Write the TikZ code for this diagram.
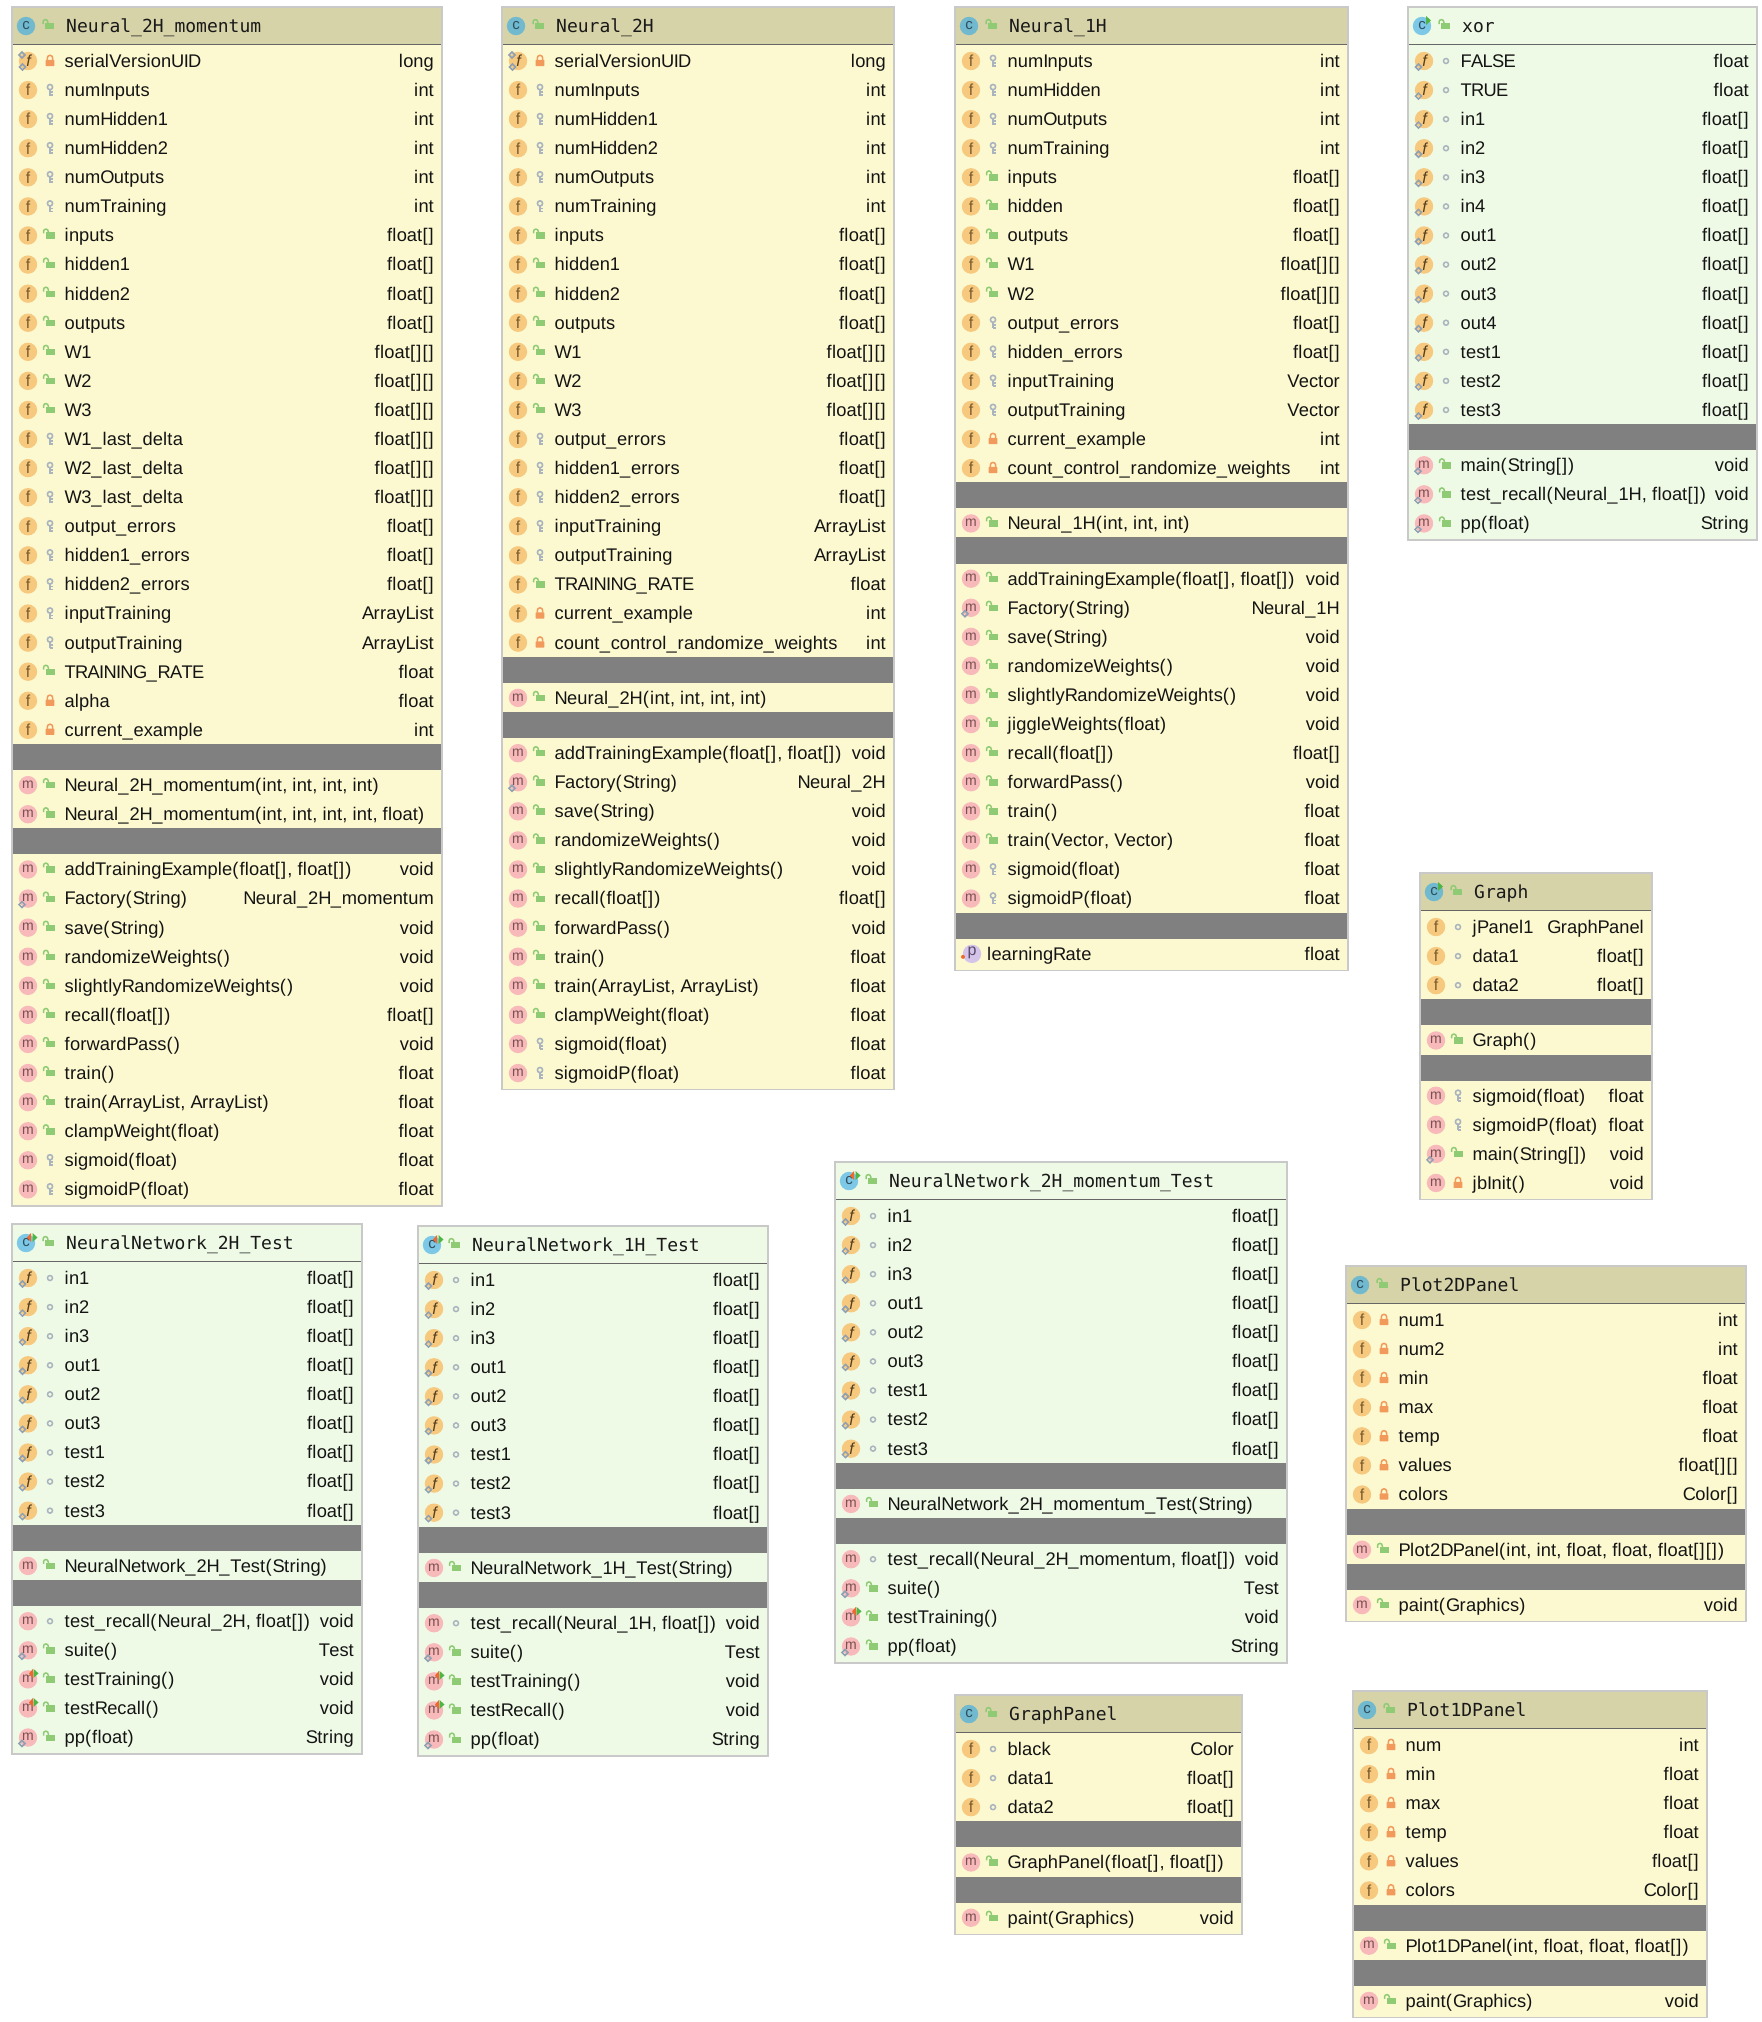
\documentclass[tikz,border=0pt]{standalone}
\usepackage{fontspec}
\setmainfont{Liberation Sans}
\newfontfamily\monof{DejaVu Sans Mono}
\definecolor{ybody}{HTML}{FCF9D0}
\definecolor{yhead}{HTML}{D6D3A9}
\definecolor{gbody}{HTML}{EFFAE6}
\definecolor{sepc}{HTML}{808080}
\definecolor{edgec}{HTML}{C9C9C9}
\definecolor{linec}{HTML}{666666}
\definecolor{ficon}{HTML}{F6C97F}
\definecolor{mincon}{HTML}{F8B9BB}
\definecolor{cicon}{HTML}{70B9CE}
\definecolor{picon}{HTML}{D4C4EA}
\definecolor{fink}{HTML}{7A5A2C}
\definecolor{mink}{HTML}{7A5050}
\definecolor{cink}{HTML}{2F4F5F}
\definecolor{pink2}{HTML}{5A4A6A}
\definecolor{pubc}{HTML}{8FCB75}
\definecolor{pric}{HTML}{F29A5C}
\definecolor{proc}{HTML}{A9B4BE}
\definecolor{pinc}{HTML}{8FA0B3}
\definecolor{runr}{HTML}{EE6A2C}
\definecolor{rung}{HTML}{4FB544}
\newcounter{nid}
\newcommand\Nd{\stepcounter{nid}\node}
\newcommand\nn{n\arabic{nid}}
\pgfdeclarelayer{bglayer}
\pgfsetlayers{bglayer,main}
% small tracking so that the Liberation Sans rows take the reference's widths
\newXeTeXintercharclass\clsnarrow
\newXeTeXintercharclass\clsbrk
\newXeTeXintercharclass\clscap
\XeTeXcharclass`f=\clsnarrow \XeTeXcharclass`l=\clsnarrow \XeTeXcharclass`t=\clsnarrow \XeTeXcharclass`i=\clsnarrow \XeTeXcharclass`j=\clsnarrow \XeTeXcharclass`r=\clsnarrow
\XeTeXcharclass`(=\clsbrk \XeTeXcharclass`)=\clsbrk \XeTeXcharclass`[=\clsbrk \XeTeXcharclass`]=\clsbrk \XeTeXcharclass`,=\clsbrk
\XeTeXcharclass`A=\clscap \XeTeXcharclass`B=\clscap \XeTeXcharclass`C=\clscap \XeTeXcharclass`D=\clscap \XeTeXcharclass`E=\clscap \XeTeXcharclass`F=\clscap \XeTeXcharclass`G=\clscap \XeTeXcharclass`H=\clscap \XeTeXcharclass`I=\clscap \XeTeXcharclass`L=\clscap \XeTeXcharclass`N=\clscap \XeTeXcharclass`O=\clscap \XeTeXcharclass`P=\clscap \XeTeXcharclass`R=\clscap \XeTeXcharclass`S=\clscap \XeTeXcharclass`T=\clscap \XeTeXcharclass`U=\clscap \XeTeXcharclass`V=\clscap \XeTeXcharclass`W=\clscap
\XeTeXinterchartoks\clsnarrow 0={\kern.3pt}
\XeTeXinterchartoks\clsnarrow\clsnarrow={\kern.3pt}
\XeTeXinterchartoks\clsnarrow\clsbrk={\kern.3pt}
\XeTeXinterchartoks\clsnarrow\clscap={\kern.3pt}
\XeTeXinterchartoks\clsbrk 0={\kern1.1pt}
\XeTeXinterchartoks\clsbrk\clsnarrow={\kern1.1pt}
\XeTeXinterchartoks\clsbrk\clsbrk={\kern1.1pt}
\XeTeXinterchartoks\clsbrk\clscap={\kern1.1pt}
\XeTeXinterchartoks\clscap 0={\kern-.7pt}
\XeTeXinterchartoks\clscap\clsnarrow={\kern-.7pt}
\XeTeXinterchartoks\clscap\clscap={\kern-.7pt}
\newcommand\rowfont{\XeTeXinterchartokenstate=1 \def\_{\textunderscore\kern.9pt}\fontsize{18.3}{20}\selectfont}
\tikzset{
  x=1pt,y=-1pt,
  rowtxt/.style={inner sep=0pt,font=\rowfont,text=black!92},
  titletxt/.style={inner sep=0pt,anchor=base west,font=\monof\fontsize{18}{20}\selectfont,text=black!90},
  iconf/.style={inner sep=0pt,font=\fontsize{16}{18}\selectfont,text=fink},
  iconfs/.style={inner sep=0pt,font=\itshape\fontsize{16}{18}\selectfont,text=fink!70!black},
  iconm/.style={inner sep=0pt,font=\fontsize{14}{16}\selectfont,text=mink},
  iconc/.style={inner sep=0pt,font=\fontsize{15}{16}\selectfont,text=cink},
  iconp/.style={inner sep=0pt,font=\fontsize{16}{16}\selectfont,text=pink2},
  pinmark/.style={draw=pinc,line width=1.5pt},
}
% ---- small marks
\newcommand\pinat[2]{\draw[pinmark] ({#1-3},{#2})--({#1},{#2-3})--({#1+3},{#2})--({#1},{#2+3})--cycle;}
\newcommand\runr[2]{\fill[runr] ({#1+4},{#2-4.5})--({#1},{#2})--({#1+4},{#2+4.5})--cycle;}
\newcommand\rung[2]{\fill[rung] ({#1},{#2-4.5})--({#1+5},{#2})--({#1},{#2+4.5})--cycle;}
% ---- member icons, centred on (\ix,\cury)
\newcommand\icnf{\fill[ficon] (\ix,\cury) circle[radius=9.2pt]; \Nd[iconf] (\nn) at (\ix,\cury) {f};}
\newcommand\icnfs{\fill[ficon] (\ix,\cury) circle[radius=9.2pt]; \Nd[iconfs] (\nn) at ({\ix+.5},\cury) {f}; \pinat{\ix-5.5}{\cury+6}}
\newcommand\icnfz{\fill[ficon] (\ix,\cury) circle[radius=9.2pt]; \Nd[iconfs] (\nn) at ({\ix+.5},\cury) {f}; \pinat{\ix-5.5}{\cury+6}\pinat{\ix-6}{\cury-6}}
\newcommand\icnm{\fill[mincon] (\ix,\cury) circle[radius=9.2pt]; \Nd[iconm] (\nn) at (\ix,{\cury-.5}) {m};}
\newcommand\icnms{\icnm\pinat{\ix-6}{\cury+6}}
\newcommand\icnmt{\icnm\runr{\ix+1}{\cury-6}\rung{\ix+5.5}{\cury-6}}
\newcommand\icnp{\fill[picon] ({\ix+1},\cury) circle[radius=9.2pt]; \Nd[iconp] (\nn) at ({\ix+1},{\cury-1}) {p}; \fill[runr] ({\ix-8},{\cury+3}) circle[radius=2pt];}
% ---- visibility marks, around (\vx,\cury)
\newcommand\vispub{\fill[pubc] ({\vx-4.5},{\cury-3}) rectangle ({\vx+4.5},{\cury+3.3});
  \draw[pubc,line width=1.5pt] ({\vx-6.5},{\cury-2})--({\vx-6.5},{\cury-4}) arc[start angle=180,end angle=0,radius=2.4pt]--({\vx-1.7},{\cury-2.5});}
\newcommand\vispri{\fill[pric,rounded corners=.6pt] ({\vx-4.4},{\cury-1.2}) rectangle ({\vx+4.4},{\cury+5});
  \draw[pric,line width=1.5pt] ({\vx-2.7},{\cury-1})--({\vx-2.7},{\cury-3}) arc[start angle=180,end angle=0,radius=2.7pt]--({\vx+2.7},{\cury-1});}
\newcommand\vispro{\draw[proc,line width=1.6pt] (\vx,{\cury-3}) circle[radius=2.6pt];
  \draw[proc,line width=1.8pt] (\vx,{\cury-.4})--(\vx,{\cury+5.5}) ({\vx},{\cury+2})--({\vx+2.6},{\cury+2}) ({\vx},{\cury+5})--({\vx+2.6},{\cury+5});}
\newcommand\vispkg{\draw[proc,line width=1.5pt] (\vx,\cury) circle[radius=2.5pt];}
% ---- rows
\newcommand\Rw[4]{%
  \pgfmathsetmacro\ix{\curx+16}\pgfmathsetmacro\vx{\curx+38}%
  \pgfmathsetmacro\rx{\curr-8}%
  \csname icn#1\endcsname\csname vis#2\endcsname
  \Nd[rowtxt,anchor=base west] (\nn) at ({\curx+52.5},{\cury+6.4}) {#3};
  \Nd[rowtxt,anchor=base east] (\nn) at (\rx,{\cury+6.4}) {#4};
  \pgfmathsetmacro\cury{\cury+29.08}}
\newcommand\Rp[2]{%
  \pgfmathsetmacro\ix{\curx+16}\pgfmathsetmacro\rx{\curr-8}%
  \icnp
  \Nd[rowtxt,anchor=base west] (\nn) at ({\curx+32},{\cury+6.4}) {#1};
  \Nd[rowtxt,anchor=base east] (\nn) at (\rx,{\cury+6.4}) {#2};
  \pgfmathsetmacro\cury{\cury+29.08}}
\newcommand\Sp{\fill[sepc] ({\curx+1},{\cury-15}) rectangle ({\curr-1},{\cury+11.2});
  \pgfmathsetmacro\cury{\cury+26.2}}
% ---- class icons
\newcommand\clsicon[1]{\pgfmathsetmacro\ix{\curx+14}\pgfmathsetmacro\cy{\curtop+19}%
  \fill[cicon] (\ix,\cy) circle[radius=9.2pt];
  \Nd[iconc] (\nn) at (\ix,{\cy-.5}) {c};
  \csname clsm#1\endcsname
  \pgfmathsetmacro\vx{\curx+37.5}\let\savy\cury\let\cury\cy\vispub\let\cury\savy}
\newcommand\clsmc{}
\newcommand\clsmr{\rung{\ix+4}{\cy-5.5}}
\newcommand\clsmt{\runr{\ix+1}{\cy-5.5}\rung{\ix+6.5}{\cy-5.5}}
% ---- box: x0 x1 ytop headcolor classmark title rows
\newcommand\umlbox[7]{%
  \def\curx{#1}\def\curr{#2}\def\curtop{#3}%
  \pgfmathsetmacro\cury{#3+54}%
  \fill[#4] ({#1+1},{#3+1}) rectangle ({#2-1},{#3+37});
  \draw[linec,line width=1.4pt] ({#1+1},{#3+37.3}) -- ({#2-1},{#3+37.3});
  \clsicon{#5}
  \Nd[titletxt] (\nn) at ({#1+54},{#3+25.5}) {#6};
  #7
  \pgfmathsetmacro\bot{\cury-12.5}%
  \begin{pgfonlayer}{bglayer}
    \fill[bodyfill] ({#1+1},{#3+38}) rectangle ({#2-1},\bot);
  \end{pgfonlayer}
  \draw[edgec,line width=1.5pt] (#1,#3) rectangle (#2,\bot);
}
\begin{document}
\begin{tikzpicture}
\useasboundingbox (0,0) rectangle (1762,2022);
\begin{pgfonlayer}{bglayer}\fill[white] (0,0) rectangle (1762,2022);\end{pgfonlayer}
\colorlet{bodyfill}{ybody}
\umlbox{12}{442}{7}{yhead}{c}{Neural\_2H\_momentum}{%
\Rw{fz}{pri}{serialVersionUID}{long}
\Rw{f}{pro}{numInputs}{int}
\Rw{f}{pro}{numHidden1}{int}
\Rw{f}{pro}{numHidden2}{int}
\Rw{f}{pro}{numOutputs}{int}
\Rw{f}{pro}{numTraining}{int}
\Rw{f}{pub}{inputs}{float[]}
\Rw{f}{pub}{hidden1}{float[]}
\Rw{f}{pub}{hidden2}{float[]}
\Rw{f}{pub}{outputs}{float[]}
\Rw{f}{pub}{W1}{float[][]}
\Rw{f}{pub}{W2}{float[][]}
\Rw{f}{pub}{W3}{float[][]}
\Rw{f}{pro}{W1\_last\_delta}{float[][]}
\Rw{f}{pro}{W2\_last\_delta}{float[][]}
\Rw{f}{pro}{W3\_last\_delta}{float[][]}
\Rw{f}{pro}{output\_errors}{float[]}
\Rw{f}{pro}{hidden1\_errors}{float[]}
\Rw{f}{pro}{hidden2\_errors}{float[]}
\Rw{f}{pro}{inputTraining}{ArrayList}
\Rw{f}{pro}{outputTraining}{ArrayList}
\Rw{f}{pub}{TRAINING\_RATE}{float}
\Rw{f}{pri}{alpha}{float}
\Rw{f}{pri}{current\_example}{int}
\Sp
\Rw{m}{pub}{Neural\_2H\_momentum(int, int, int, int)}{}
\Rw{m}{pub}{Neural\_2H\_momentum(int, int, int, int, float)}{}
\Sp
\Rw{m}{pub}{addTrainingExample(float[], float[])}{void}
\Rw{ms}{pub}{Factory(String)}{Neural\_2H\_momentum}
\Rw{m}{pub}{save(String)}{void}
\Rw{m}{pub}{randomizeWeights()}{void}
\Rw{m}{pub}{slightlyRandomizeWeights()}{void}
\Rw{m}{pub}{recall(float[])}{float[]}
\Rw{m}{pub}{forwardPass()}{void}
\Rw{m}{pub}{train()}{float}
\Rw{m}{pub}{train(ArrayList, ArrayList)}{float}
\Rw{m}{pub}{clampWeight(float)}{float}
\Rw{m}{pro}{sigmoid(float)}{float}
\Rw{m}{pro}{sigmoidP(float)}{float}
}
\umlbox{502}{894}{7}{yhead}{c}{Neural\_2H}{%
\Rw{fz}{pri}{serialVersionUID}{long}
\Rw{f}{pro}{numInputs}{int}
\Rw{f}{pro}{numHidden1}{int}
\Rw{f}{pro}{numHidden2}{int}
\Rw{f}{pro}{numOutputs}{int}
\Rw{f}{pro}{numTraining}{int}
\Rw{f}{pub}{inputs}{float[]}
\Rw{f}{pub}{hidden1}{float[]}
\Rw{f}{pub}{hidden2}{float[]}
\Rw{f}{pub}{outputs}{float[]}
\Rw{f}{pub}{W1}{float[][]}
\Rw{f}{pub}{W2}{float[][]}
\Rw{f}{pub}{W3}{float[][]}
\Rw{f}{pro}{output\_errors}{float[]}
\Rw{f}{pro}{hidden1\_errors}{float[]}
\Rw{f}{pro}{hidden2\_errors}{float[]}
\Rw{f}{pro}{inputTraining}{ArrayList}
\Rw{f}{pro}{outputTraining}{ArrayList}
\Rw{f}{pub}{TRAINING\_RATE}{float}
\Rw{f}{pri}{current\_example}{int}
\Rw{f}{pri}{count\_control\_randomize\_weights}{int}
\Sp
\Rw{m}{pub}{Neural\_2H(int, int, int, int)}{}
\Sp
\Rw{m}{pub}{addTrainingExample(float[], float[])}{void}
\Rw{ms}{pub}{Factory(String)}{Neural\_2H}
\Rw{m}{pub}{save(String)}{void}
\Rw{m}{pub}{randomizeWeights()}{void}
\Rw{m}{pub}{slightlyRandomizeWeights()}{void}
\Rw{m}{pub}{recall(float[])}{float[]}
\Rw{m}{pub}{forwardPass()}{void}
\Rw{m}{pub}{train()}{float}
\Rw{m}{pub}{train(ArrayList, ArrayList)}{float}
\Rw{m}{pub}{clampWeight(float)}{float}
\Rw{m}{pro}{sigmoid(float)}{float}
\Rw{m}{pro}{sigmoidP(float)}{float}
}
\umlbox{955}{1348}{7}{yhead}{c}{Neural\_1H}{%
\Rw{f}{pro}{numInputs}{int}
\Rw{f}{pro}{numHidden}{int}
\Rw{f}{pro}{numOutputs}{int}
\Rw{f}{pro}{numTraining}{int}
\Rw{f}{pub}{inputs}{float[]}
\Rw{f}{pub}{hidden}{float[]}
\Rw{f}{pub}{outputs}{float[]}
\Rw{f}{pub}{W1}{float[][]}
\Rw{f}{pub}{W2}{float[][]}
\Rw{f}{pro}{output\_errors}{float[]}
\Rw{f}{pro}{hidden\_errors}{float[]}
\Rw{f}{pro}{inputTraining}{Vector}
\Rw{f}{pro}{outputTraining}{Vector}
\Rw{f}{pri}{current\_example}{int}
\Rw{f}{pri}{count\_control\_randomize\_weights}{int}
\Sp
\Rw{m}{pub}{Neural\_1H(int, int, int)}{}
\Sp
\Rw{m}{pub}{addTrainingExample(float[], float[])}{void}
\Rw{ms}{pub}{Factory(String)}{Neural\_1H}
\Rw{m}{pub}{save(String)}{void}
\Rw{m}{pub}{randomizeWeights()}{void}
\Rw{m}{pub}{slightlyRandomizeWeights()}{void}
\Rw{m}{pub}{jiggleWeights(float)}{void}
\Rw{m}{pub}{recall(float[])}{float[]}
\Rw{m}{pub}{forwardPass()}{void}
\Rw{m}{pub}{train()}{float}
\Rw{m}{pub}{train(Vector, Vector)}{float}
\Rw{m}{pro}{sigmoid(float)}{float}
\Rw{m}{pro}{sigmoidP(float)}{float}
\Sp
\Rp{learningRate}{float}
}
\umlbox{1420}{1652}{873}{yhead}{r}{Graph}{%
\Rw{f}{pkg}{jPanel1}{GraphPanel}
\Rw{f}{pkg}{data1}{float[]}
\Rw{f}{pkg}{data2}{float[]}
\Sp
\Rw{m}{pub}{Graph()}{}
\Sp
\Rw{m}{pro}{sigmoid(float)}{float}
\Rw{m}{pro}{sigmoidP(float)}{float}
\Rw{ms}{pub}{main(String[])}{void}
\Rw{m}{pri}{jbInit()}{void}
}
\umlbox{1346}{1746}{1266}{yhead}{c}{Plot2DPanel}{%
\Rw{f}{pri}{num1}{int}
\Rw{f}{pri}{num2}{int}
\Rw{f}{pri}{min}{float}
\Rw{f}{pri}{max}{float}
\Rw{f}{pri}{temp}{float}
\Rw{f}{pri}{values}{float[][]}
\Rw{f}{pri}{colors}{Color[]}
\Sp
\Rw{m}{pub}{Plot2DPanel(int, int, float, float, float[][])}{}
\Sp
\Rw{m}{pub}{paint(Graphics)}{void}
}
\umlbox{955}{1242}{1695}{yhead}{c}{GraphPanel}{%
\Rw{f}{pkg}{black}{Color}
\Rw{f}{pkg}{data1}{float[]}
\Rw{f}{pkg}{data2}{float[]}
\Sp
\Rw{m}{pub}{GraphPanel(float[], float[])}{}
\Sp
\Rw{m}{pub}{paint(Graphics)}{void}
}
\umlbox{1353}{1707}{1691}{yhead}{c}{Plot1DPanel}{%
\Rw{f}{pri}{num}{int}
\Rw{f}{pri}{min}{float}
\Rw{f}{pri}{max}{float}
\Rw{f}{pri}{temp}{float}
\Rw{f}{pri}{values}{float[]}
\Rw{f}{pri}{colors}{Color[]}
\Sp
\Rw{m}{pub}{Plot1DPanel(int, float, float, float[])}{}
\Sp
\Rw{m}{pub}{paint(Graphics)}{void}
}
\colorlet{bodyfill}{gbody}
\definecolor{cicon}{HTML}{7CC8E6}
\umlbox{1408}{1757}{7}{gbody}{r}{xor}{%
\Rw{fs}{pkg}{FALSE}{float}
\Rw{fs}{pkg}{TRUE}{float}
\Rw{fs}{pkg}{in1}{float[]}
\Rw{fs}{pkg}{in2}{float[]}
\Rw{fs}{pkg}{in3}{float[]}
\Rw{fs}{pkg}{in4}{float[]}
\Rw{fs}{pkg}{out1}{float[]}
\Rw{fs}{pkg}{out2}{float[]}
\Rw{fs}{pkg}{out3}{float[]}
\Rw{fs}{pkg}{out4}{float[]}
\Rw{fs}{pkg}{test1}{float[]}
\Rw{fs}{pkg}{test2}{float[]}
\Rw{fs}{pkg}{test3}{float[]}
\Sp
\Rw{ms}{pub}{main(String[])}{void}
\Rw{ms}{pub}{test\_recall(Neural\_1H, float[])}{void}
\Rw{ms}{pub}{pp(float)}{String}
}
\umlbox{12}{362}{1224}{gbody}{t}{NeuralNetwork\_2H\_Test}{%
\Rw{fs}{pkg}{in1}{float[]}
\Rw{fs}{pkg}{in2}{float[]}
\Rw{fs}{pkg}{in3}{float[]}
\Rw{fs}{pkg}{out1}{float[]}
\Rw{fs}{pkg}{out2}{float[]}
\Rw{fs}{pkg}{out3}{float[]}
\Rw{fs}{pkg}{test1}{float[]}
\Rw{fs}{pkg}{test2}{float[]}
\Rw{fs}{pkg}{test3}{float[]}
\Sp
\Rw{m}{pub}{NeuralNetwork\_2H\_Test(String)}{}
\Sp
\Rw{m}{pkg}{test\_recall(Neural\_2H, float[])}{void}
\Rw{ms}{pub}{suite()}{Test}
\Rw{mt}{pub}{testTraining()}{void}
\Rw{mt}{pub}{testRecall()}{void}
\Rw{ms}{pub}{pp(float)}{String}
}
\umlbox{418}{768}{1226}{gbody}{t}{NeuralNetwork\_1H\_Test}{%
\Rw{fs}{pkg}{in1}{float[]}
\Rw{fs}{pkg}{in2}{float[]}
\Rw{fs}{pkg}{in3}{float[]}
\Rw{fs}{pkg}{out1}{float[]}
\Rw{fs}{pkg}{out2}{float[]}
\Rw{fs}{pkg}{out3}{float[]}
\Rw{fs}{pkg}{test1}{float[]}
\Rw{fs}{pkg}{test2}{float[]}
\Rw{fs}{pkg}{test3}{float[]}
\Sp
\Rw{m}{pub}{NeuralNetwork\_1H\_Test(String)}{}
\Sp
\Rw{m}{pkg}{test\_recall(Neural\_1H, float[])}{void}
\Rw{ms}{pub}{suite()}{Test}
\Rw{mt}{pub}{testTraining()}{void}
\Rw{mt}{pub}{testRecall()}{void}
\Rw{ms}{pub}{pp(float)}{String}
}
\umlbox{835}{1287}{1162}{gbody}{t}{NeuralNetwork\_2H\_momentum\_Test}{%
\Rw{fs}{pkg}{in1}{float[]}
\Rw{fs}{pkg}{in2}{float[]}
\Rw{fs}{pkg}{in3}{float[]}
\Rw{fs}{pkg}{out1}{float[]}
\Rw{fs}{pkg}{out2}{float[]}
\Rw{fs}{pkg}{out3}{float[]}
\Rw{fs}{pkg}{test1}{float[]}
\Rw{fs}{pkg}{test2}{float[]}
\Rw{fs}{pkg}{test3}{float[]}
\Sp
\Rw{m}{pub}{NeuralNetwork\_2H\_momentum\_Test(String)}{}
\Sp
\Rw{m}{pkg}{test\_recall(Neural\_2H\_momentum, float[])}{void}
\Rw{ms}{pub}{suite()}{Test}
\Rw{mt}{pub}{testTraining()}{void}
\Rw{ms}{pub}{pp(float)}{String}
}
\end{tikzpicture}
\end{document}
